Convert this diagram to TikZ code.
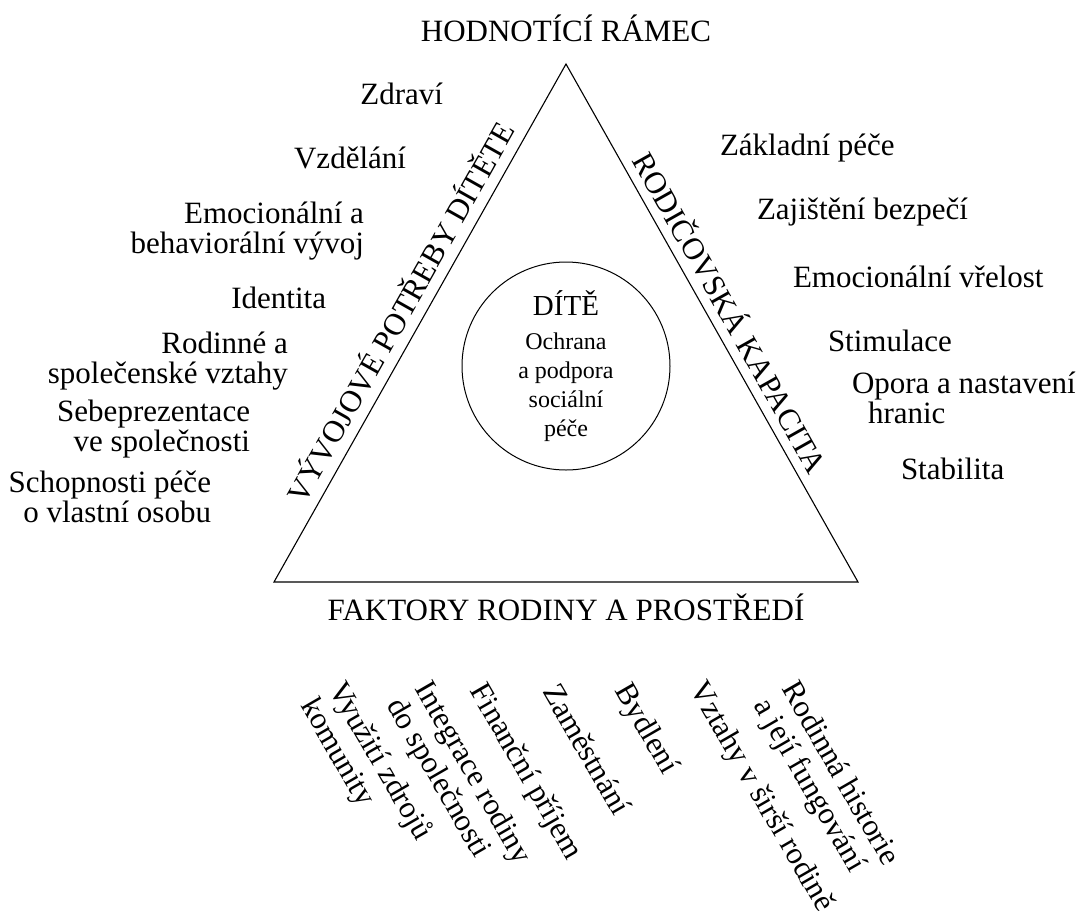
\documentclass[tikz,border=0pt]{standalone}
\usepackage{fontspec}
\setmainfont{Liberation Serif}
\usetikzlibrary{calc}
\begin{document}
\begin{tikzpicture}[x=1pt,y=-1pt,
  every node/.style={inner sep=0pt, outer sep=0pt},
  lbl/.style={font=\fontsize{31}{29.5}\selectfont},
  lleft/.style={lbl, anchor=base east, align=right},
  lright/.style={lbl, anchor=base west, align=left},
  side/.style={lbl, anchor=base},
  bottomlbl/.style={font=\fontsize{31}{32.5}\selectfont, anchor=north west, align=left, rotate=-60},
  edge/.style={line width=1.1pt, line join=miter}]
\useasboundingbox (0,0) rectangle (1077,914);
\coordinate (A) at (566,64);
\coordinate (B) at (274,582);
\coordinate (C) at (858,582);
\draw[edge] (A) -- (B) -- (C) -- cycle;
\node[circle, draw, line width=1pt, minimum size=208pt, align=center,
  font=\fontsize{24}{29}\selectfont] (child) at (566,366)
  {{\fontsize{29}{34}\selectfont DÍTĚ}\\[5pt]Ochrana\\a podpora\\sociální\\péče};
\node[side, rotate=60.6] (needs) at ($(B)!0.5!(A)!11pt!90:(A)$) {VÝVOJOVÉ POTŘEBY DÍTĚTE};
\node[side, rotate=-60.6] (capacity) at ($(C)!0.5!(A)!10pt!-90:(A)$) {RODIČOVSKÁ KAPACITA};
\node[lbl, anchor=base] (frame) at (566,41) {HODNOTÍCÍ RÁMEC};
\node[lbl, anchor=base] (env) at (566,620) {FAKTORY RODINY A PROSTŘEDÍ};
\node[lleft] (zdravi) at (443,104) {Zdraví};
\node[lleft] (vzdelani) at (406,168) {Vzdělání};
\node[lleft] (emo) at (364,253) {Emocionální a\\behaviorální vývoj};
\node[lleft] (ident) at (326,308) {Identita};
\node[lleft] (rod) at (288,383) {Rodinné a\\společenské vztahy};
\node[lleft] (sebe) at (250,451) {Sebeprezentace\\ve společnosti};
\node[lleft] (schop) at (211,522) {Schopnosti péče\\o vlastní osobu};
\node[lright] (zakl) at (720,155) {Základní péče};
\node[lright] (bezp) at (757,219) {Zajištění bezpečí};
\node[lright] (vrel) at (793,287) {Emocionální vřelost};
\node[lright] (stim) at (828,351) {Stimulace};
\node[lright] (opora) at (852,423) {Opora a nastavení\\\hspace*{16pt}hranic};
\node[lright] (stab) at (901,479) {Stabilita};
\node[bottomlbl] (komun) at (348,678) {Využití zdrojů\\komunity};
\node[bottomlbl] (integ) at (433,678) {Integrace rodiny\\do společnosti};
\node[bottomlbl] (fin) at (488,680) {Finanční příjem};
\node[bottomlbl] (zam) at (561,681) {Zaměstnání};
\node[bottomlbl] (byd) at (633,680) {Bydlení};
\node[bottomlbl] (vzt) at (708,678) {Vztahy v širší rodině};
\node[bottomlbl] (hist) at (800,678) {Rodinná historie\\a její fungování};
\end{tikzpicture}
\end{document}
